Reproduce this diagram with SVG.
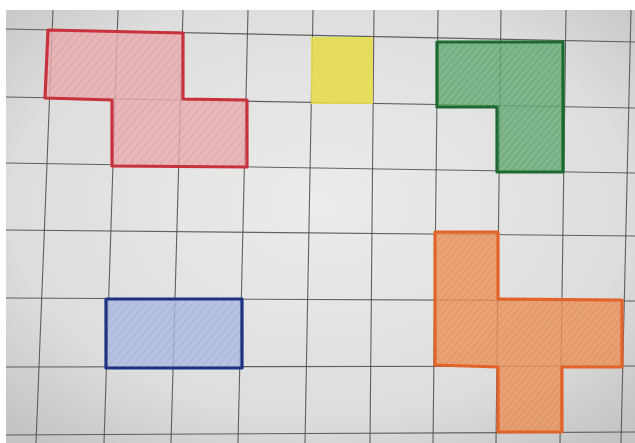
<svg xmlns="http://www.w3.org/2000/svg" width="635" height="443" viewBox="0 0 635 443">
<defs>
<radialGradient id="paper" cx="0.5" cy="0.45" r="0.7">
<stop offset="0" stop-color="#ececeb"/>
<stop offset="0.7" stop-color="#dcdddc"/>
<stop offset="1" stop-color="#c4c5c4"/>
</radialGradient>
<pattern id="hRed" width="6" height="6" patternUnits="userSpaceOnUse" patternTransform="rotate(40)">
<rect width="6" height="6" fill="#e9adb1"/>
<line x1="0" y1="0" x2="0" y2="6" stroke="#d7767e" stroke-width="1.2" opacity="0.7"/>
</pattern>
<pattern id="hGreen" width="5" height="5" patternUnits="userSpaceOnUse" patternTransform="rotate(40)">
<rect width="5" height="5" fill="#69ae78"/>
<line x1="0" y1="0" x2="0" y2="5" stroke="#3a864e" stroke-width="1.4" opacity="0.8"/>
</pattern>
<pattern id="hBlue" width="6" height="6" patternUnits="userSpaceOnUse" patternTransform="rotate(40)">
<rect width="6" height="6" fill="#aebbe0"/>
<line x1="0" y1="0" x2="0" y2="6" stroke="#7d90cc" stroke-width="1.2" opacity="0.7"/>
</pattern>
<pattern id="hOrange" width="5" height="5" patternUnits="userSpaceOnUse" patternTransform="rotate(40)">
<rect width="5" height="5" fill="#eb955f"/>
<line x1="0" y1="0" x2="0" y2="5" stroke="#dc6f32" stroke-width="1.4" opacity="0.8"/>
</pattern>
<style>
.grid line{stroke:#4a4a4a;stroke-width:1.1;opacity:0.85}
.shape{stroke-width:3.2;stroke-linejoin:round;fill-opacity:0.82}
</style>
</defs>
<rect width="635" height="443" fill="#ffffff"/>
<rect x="6" y="10" width="629" height="433" fill="url(#paper)"/>
<g class="grid" id="grid">
<line x1="53" y1="10" x2="36" y2="443"/>
<line x1="118" y1="10" x2="104" y2="443"/>
<line x1="183" y1="10" x2="171" y2="443"/>
<line x1="248" y1="10" x2="238" y2="443"/>
<line x1="313" y1="10" x2="305" y2="443"/>
<line x1="374" y1="10" x2="370" y2="443"/>
<line x1="438" y1="10" x2="433" y2="443"/>
<line x1="501" y1="10" x2="496" y2="443"/>
<line x1="566" y1="10" x2="560" y2="443"/>
<line x1="631" y1="10" x2="621" y2="443"/>
<line x1="6" y1="29" x2="635" y2="42"/>
<line x1="6" y1="97" x2="635" y2="108"/>
<line x1="6" y1="163" x2="635" y2="173"/>
<line x1="6" y1="230" x2="635" y2="236"/>
<line x1="6" y1="298" x2="635" y2="301"/>
<line x1="6" y1="367" x2="635" y2="366"/>
<line x1="6" y1="435" x2="635" y2="432"/>
</g>
<g id="red">
<path class="shape" d="M48,30 L183,33 L183,99 L247,100 L247,167 L112,166 L112,100 L45,98 Z" fill="url(#hRed)" stroke="#c8323c"/>
</g>
<g id="yellow">
<rect x="311" y="37" width="62" height="67" fill="#e6dc4c" opacity="0.9"/>
</g>
<g id="green">
<path class="shape" d="M437,42 L563,42 L563,172 L497,172 L497,107 L437,107 Z" fill="url(#hGreen)" stroke="#1d6a30"/>
</g>
<g id="blue">
<rect class="shape" x="106" y="299" width="136" height="69" fill="url(#hBlue)" stroke="#1e3282"/>
</g>
<g id="orange">
<path class="shape" d="M435,232 L498,232 L498,299 L622,300 L622,367 L562,367 L562,432 L498,432 L498,367 L435,365 Z" fill="url(#hOrange)" stroke="#e2642a"/>
</g>
</svg>
